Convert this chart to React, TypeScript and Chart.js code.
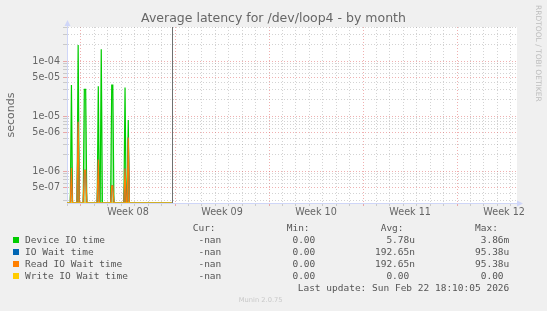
import React, { useEffect, useRef } from 'react';
import { Chart, registerables } from 'chart.js';

Chart.register(...registerables);

// ---------- text ----------
const TITLE = 'Average latency for /dev/loop4 - by month';
const Y_TITLE = 'seconds';
const WEEK_LABELS = ['Week 08', 'Week 09', 'Week 10', 'Week 11', 'Week 12'];
// days measured from Mon 16 Feb 2026 00:00
const WEEK_LABEL_DAYS = [3.5, 10.5, 17.5, 24.5, 31.5];
const X_MIN = -1.04;
const X_MAX = 32.46;
const NOW_DAY = 6.757; // Sun Feb 22 18:10
const Y_MIN = 2.65e-7;
const Y_MAX = 4.15e-4;
const SAMPLE_STEP = 1 / 12; // 2-hour samples

// ---------- data (non-zero samples; everything else is 0) ----------
const SPIKE_DAYS = [-0.71, -0.21, 0.25, 0.35, 1.29, 1.51, 2.29, 2.37, 3.28, 3.52];
const DEVICE_IO_TIME = [3.66e-5, 1.95e-4, 3.06e-5, 3.06e-5, 3.5e-5, 1.63e-4, 3.66e-5, 3.66e-5, 3.3e-5, 8.5e-6];
const IO_WAIT_TIME = [1.15e-6, 7.9e-6, 1.04e-6, 1.04e-6, 1.63e-6, 0, 5.4e-7, 5.4e-7, 1.12e-6, 4.1e-6];
const READ_IO_WAIT_TIME = [1.15e-6, 7.9e-6, 1.04e-6, 1.04e-6, 1.63e-6, 0, 5.4e-7, 5.4e-7, 1.12e-6, 4.1e-6];
const WRITE_IO_WAIT_TIME = [0, 0, 0, 0, 0, 0, 0, 0, 0, 0];

// ---------- legend ----------
const SERIES_NAMES = ['Device IO time', 'IO Wait time', 'Read IO Wait time', 'Write IO Wait time'];
const SERIES_COLORS = ['#00CC00', '#0066B3', '#FF8000', '#FFCC00'];
const SERIES_SHADES = ['rgba(0,204,0,0.35)', 'rgba(0,102,179,0)', 'rgba(255,128,0,0.25)', 'rgba(255,204,0,0)'];
const CUR_VALUES = ['-nan', '-nan', '-nan', '-nan'];
const MIN_VALUES = ['0.00', '0.00', '0.00', '0.00'];
const AVG_VALUES = ['5.78u', '192.65n', '192.65n', '0.00 '];
const MAX_VALUES = ['3.86m', '95.38u', '95.38u', '0.00 '];
const LAST_UPDATE = 'Last update: Sun Feb 22 18:10:05 2026';
const VERSION = 'Munin 2.0.75';
const WATERMARK = 'RRDTOOL / TOBI OETIKER';

const FONT_COLOR = '#666666';
const LEGEND_COLOR = '#555555';
const AXIS_COLOR = '#CFD6F8';
const GRID_COLOR = 'rgba(150,150,150,0.42)';
const MGRID_COLOR = 'rgba(222,79,79,0.45)';

function buildSeries(values: number[]) {
  const pts: { x: number; y: number }[] = [{ x: X_MIN, y: 0 }];
  for (let i = 0; i < SPIKE_DAYS.length; i++) {
    const v = values[i];
    if (!v) continue;
    const d = SPIKE_DAYS[i];
    const prevAdj = i > 0 && values[i - 1] && d - SPIKE_DAYS[i - 1] < SAMPLE_STEP * 1.5;
    const nextAdj = i < SPIKE_DAYS.length - 1 && values[i + 1] && SPIKE_DAYS[i + 1] - d < SAMPLE_STEP * 1.5;
    if (!prevAdj) pts.push({ x: d - SAMPLE_STEP, y: 0 });
    pts.push({ x: d, y: v });
    if (!nextAdj) pts.push({ x: d + SAMPLE_STEP, y: 0 });
  }
  pts.push({ x: NOW_DAY, y: 0 });
  // a log axis cannot show 0: zero samples sit on the axis floor
  return pts.map((p) => ({ x: p.x, y: p.y > 0 ? p.y : Y_MIN }));
}

function mant(v: number) {
  const e = Math.floor(Math.log10(v) + 1e-9);
  return { m: Math.round(v / Math.pow(10, e)), e };
}

const decorPlugin = {
  id: 'decor',
  beforeDraw(chart: any) {
    const { ctx, chartArea: a } = chart;
    ctx.save();
    ctx.fillStyle = '#ffffff';
    ctx.fillRect(a.left, a.top, a.right - a.left, a.bottom - a.top);
    ctx.restore();
  },
  afterDatasetsDraw(chart: any) {
    const { ctx, chartArea: a, scales } = chart;
    const x = Math.round(scales.x.getPixelForValue(NOW_DAY)) + 0.5;
    ctx.save();
    ctx.strokeStyle = '#707070';
    ctx.lineWidth = 1;
    ctx.beginPath();
    ctx.moveTo(x, a.top);
    ctx.lineTo(x, a.bottom);
    ctx.stroke();
    ctx.restore();
  },
  afterDraw(chart: any) {
    const { ctx, chartArea: a } = chart;
    ctx.save();
    ctx.strokeStyle = AXIS_COLOR;
    ctx.fillStyle = AXIS_COLOR;
    ctx.lineWidth = 1;
    const lx = a.left + 0.5;
    ctx.beginPath();
    ctx.moveTo(lx, a.top);
    ctx.lineTo(lx, a.top - 4);
    ctx.stroke();
    ctx.beginPath();
    ctx.moveTo(lx - 3, a.top - 1);
    ctx.lineTo(lx + 3, a.top - 1);
    ctx.lineTo(lx, a.top - 7);
    ctx.closePath();
    ctx.fill();
    const by = a.bottom + 0.5;
    ctx.beginPath();
    ctx.moveTo(a.right, by);
    ctx.lineTo(a.right + 3, by);
    ctx.stroke();
    ctx.beginPath();
    ctx.moveTo(a.right, by - 3);
    ctx.lineTo(a.right, by + 3);
    ctx.lineTo(a.right + 6, by);
    ctx.closePath();
    ctx.fill();
    ctx.restore();
  },
};

export default function App() {
  const ref = useRef<HTMLCanvasElement | null>(null);

  useEffect(() => {
    document.body.style.margin = '0';
    document.body.style.background = '#f0f0f0';
    const canvas = ref.current;
    if (!canvas) return;
    const seriesValues = [DEVICE_IO_TIME, IO_WAIT_TIME, READ_IO_WAIT_TIME, WRITE_IO_WAIT_TIME];
    const datasets = seriesValues.map((vals, i) => ({
      label: SERIES_NAMES[i],
      data: buildSeries(vals),
      borderColor: SERIES_COLORS[i],
      backgroundColor: SERIES_SHADES[i],
      borderWidth: 1.2,
      pointRadius: 0,
      tension: 0,
      fill: 'origin',
      order: 4 - i,
    }));

    const chart = new Chart(canvas, {
      type: 'line',
      data: { datasets },
      options: {
        animation: false,
        responsive: false,
        maintainAspectRatio: false,
        layout: { padding: 0 },
        plugins: {
          legend: { display: false },
          tooltip: { enabled: false },
          filler: { propagate: false },
          title: {
            display: true,
            text: TITLE,
            color: FONT_COLOR,
            font: { family: 'DejaVu Sans', size: 12.5, weight: 'normal' },
            padding: { top: 11, bottom: 1 },
          },
        },
        scales: {
          x: {
            type: 'linear',
            min: X_MIN,
            max: X_MAX,
            afterBuildTicks: (s: any) => {
              const t: { value: number }[] = [];
              for (let d = Math.ceil(X_MIN * 2) / 2; d <= X_MAX; d += 0.5) t.push({ value: d });
              s.ticks = t;
            },
            afterFit: (s: any) => {
              s.height = 108;
            },
            grid: {
              color: (c: any) => {
                const v = c.tick ? c.tick.value : undefined;
                if (v === undefined) return 'rgba(0,0,0,0)';
                const r = Math.round(v * 2) / 2;
                if (r % 1 !== 0) return 'rgba(0,0,0,0)';
                return ((r % 7) + 7) % 7 === 0 ? MGRID_COLOR : GRID_COLOR;
              },
              lineWidth: 1,
              drawTicks: true,
              tickLength: 3,
              tickBorderDash: [],
            },
            border: { display: true, color: AXIS_COLOR, width: 1, dash: [1, 2] },
            ticks: {
              autoSkip: false,
              maxRotation: 0,
              minRotation: 0,
              padding: 1,
              color: FONT_COLOR,
              font: { family: 'DejaVu Sans', size: 9.6 },
              callback: (value: any) => {
                const r = Math.round(Number(value) * 2) / 2;
                const idx = WEEK_LABEL_DAYS.indexOf(r);
                return idx >= 0 ? WEEK_LABELS[idx] : '';
              },
            },
          },
          y: {
            type: 'logarithmic',
            min: Y_MIN,
            max: Y_MAX,
            afterBuildTicks: (s: any) => {
              const t: { value: number }[] = [];
              for (let e = -8; e <= -3; e++) {
                for (let m = 1; m <= 9; m++) {
                  const v = m * Math.pow(10, e);
                  if (v >= Y_MIN && v <= Y_MAX) t.push({ value: v });
                }
              }
              s.ticks = t;
            },
            afterFit: (s: any) => {
              s.width = 67;
            },
            grid: {
              color: (c: any) => {
                const v = c.tick ? c.tick.value : undefined;
                if (!v) return 'rgba(0,0,0,0)';
                const { m } = mant(v);
                return m === 1 || m === 5 ? MGRID_COLOR : GRID_COLOR;
              },
              lineWidth: 1,
              drawTicks: true,
              tickLength: 4,
              tickBorderDash: [],
            },
            border: { display: true, color: AXIS_COLOR, width: 1, dash: [1, 2] },
            ticks: {
              autoSkip: false,
              padding: 3,
              color: FONT_COLOR,
              font: { family: 'DejaVu Sans', size: 9.6 },
              callback: (value: any) => {
                const { m, e } = mant(Number(value));
                if (m !== 1 && m !== 5) return '';
                return m + 'e-' + String(-e).padStart(2, '0');
              },
            },
            title: {
              display: true,
              text: Y_TITLE,
              color: FONT_COLOR,
              font: { family: 'DejaVu Sans', size: 11 },
              padding: { top: 5, bottom: 0 },
            },
          },
          yRight: {
            type: 'linear',
            position: 'right',
            min: 0,
            max: 1,
            display: true,
            grid: { display: false, drawTicks: false },
            border: { display: false },
            ticks: { display: false },
            afterFit: (s: any) => {
              s.width = 30;
            },
          },
        },
      },
      plugins: [decorPlugin],
    } as any);
    return () => chart.destroy();
  }, []);

  const mono = "'DejaVu Sans Mono', monospace";
  const rowTop = (i: number) => 233.5 + 12 * i;
  const txt = (style: React.CSSProperties): React.CSSProperties => ({
    position: 'absolute',
    whiteSpace: 'pre',
    fontFamily: mono,
    fontSize: '9.5px',
    lineHeight: '12px',
    color: LEGEND_COLOR,
    ...style,
  });
  const rightAt = (x: number, top: number): React.CSSProperties => ({ right: 547 - x, top, textAlign: 'right' });

  return (
    <div style={{ position: 'relative', width: 547, height: 311, background: '#f0f0f0', overflow: 'hidden' }}>
      <canvas ref={ref} width={547} height={311} style={{ position: 'absolute', left: 0, top: 0, width: 547, height: 311 }} />
      <div style={txt(rightAt(221.3, 221.5))}>{'Cur: '}</div>
      <div style={txt(rightAt(315.3, 221.5))}>{'Min: '}</div>
      <div style={txt(rightAt(415, 221.5))}>{'Avg:  '}</div>
      <div style={txt(rightAt(509.3, 221.5))}>{'Max:  '}</div>
      {SERIES_NAMES.map((name, i) => (
        <React.Fragment key={name}>
          <div style={{ position: 'absolute', left: 13, top: rowTop(i) + 3, width: 6, height: 6, background: SERIES_COLORS[i] }} />
          <div style={txt({ left: 25, top: rowTop(i) })}>{name}</div>
          <div style={txt(rightAt(221.3, rowTop(i)))}>{CUR_VALUES[i]}</div>
          <div style={txt(rightAt(315.3, rowTop(i)))}>{MIN_VALUES[i]}</div>
          <div style={txt(rightAt(415, rowTop(i)))}>{AVG_VALUES[i]}</div>
          <div style={txt(rightAt(509.3, rowTop(i)))}>{MAX_VALUES[i]}</div>
        </React.Fragment>
      ))}
      <div style={txt(rightAt(509.3, 281.5))}>{LAST_UPDATE}</div>
      <div
        style={{
          position: 'absolute',
          left: 160.7,
          width: 200,
          top: 295,
          textAlign: 'center',
          fontFamily: "'DejaVu Sans', sans-serif",
          fontSize: '6.7px',
          lineHeight: '10px',
          color: '#c8c8c8',
        }}
      >
        {VERSION}
      </div>
      <div
        style={{
          position: 'absolute',
          left: 533,
          top: 5,
          writingMode: 'vertical-rl',
          fontFamily: "'DejaVu Sans', sans-serif",
          fontSize: '7.5px',
          lineHeight: '10px',
          color: '#bdbdbd',
          whiteSpace: 'pre',
        }}
      >
        {WATERMARK}
      </div>
    </div>
  );
}
